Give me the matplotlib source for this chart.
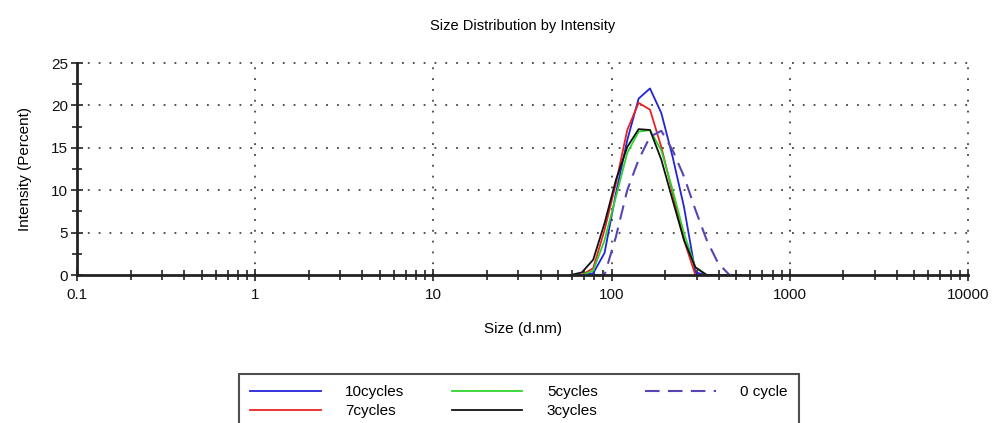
import numpy as np
import matplotlib.pyplot as plt
from matplotlib.ticker import FixedLocator, LogLocator, NullFormatter, MultipleLocator

plt.rcParams['font.family'] = ['Liberation Sans', 'DejaVu Sans']

# size bins (d.nm)
sizes = [58.77, 68.06, 78.82, 91.28, 105.7, 122.4, 141.8, 164.2, 190.1,
         220.2, 255.0, 295.3, 342.0, 396.1, 458.7, 531.2]

# intensity (%) per bin
cyc10 = [0.0, 0.0, 0.2, 2.6, 9.6, 15.9, 20.8, 22.0, 19.1, 13.9, 8.0, 0.3, 0.0, 0.0, 0.0, 0.0]
cyc7 = [0.0, 0.0, 0.8, 5.3, 10.8, 17.1, 20.3, 19.5, 15.1, 9.6, 4.1, 0.0, 0.0, 0.0, 0.0, 0.0]
cyc5 = [0.0, 0.0, 0.5, 4.1, 9.2, 14.4, 16.9, 17.1, 14.7, 10.0, 4.9, 0.9, 0.0, 0.0, 0.0, 0.0]
cyc3 = [0.0, 0.3, 1.8, 6.1, 11.2, 15.1, 17.2, 17.1, 13.6, 8.8, 4.1, 0.9, 0.0, 0.0, 0.0, 0.0]
cyc0 = [0.0, 0.0, 0.0, 0.0, 4.5, 10.0, 13.6, 16.3, 17.0, 14.7, 11.6, 7.7, 4.1, 1.4, 0.0, 0.0]

labels = ['10cycles', '7cycles', '5cycles', '3cycles', '0 cycle']
colors = ['#2323d8', '#e82222', '#2ed42e', '#111111', '#5545b5']

fig = plt.figure(figsize=(9.93, 4.23), dpi=100)
ax = fig.add_axes([77/993, 1 - 275/423, (968 - 77)/993, (275 - 63)/423])

series = [cyc10, cyc7, cyc5, cyc3, cyc0]
handles = []
for vals, lab, col in zip(series, labels, colors):
    if lab == '0 cycle':
        h, = ax.plot(sizes, vals, color=col, lw=1.5, dashes=(7, 4), label=lab)
    else:
        h, = ax.plot(sizes, vals, color=col, lw=1.3, label=lab)
    handles.append(h)

ax.set_xscale('log')
ax.set_xlim(0.1, 10000)
ax.set_ylim(0, 25)
ax.xaxis.set_major_locator(FixedLocator([0.1, 1, 10, 100, 1000, 10000]))
ax.set_xticklabels(['0.1', '1', '10', '100', '1000', '10000'])
ax.xaxis.set_minor_locator(LogLocator(base=10, subs=np.arange(2, 10), numticks=20))
ax.xaxis.set_minor_formatter(NullFormatter())
ax.yaxis.set_major_locator(MultipleLocator(5))
ax.yaxis.set_minor_locator(MultipleLocator(2.5))

ax.tick_params(which='both', direction='inout', width=1.2, color='#222222',
               labelsize=11, labelcolor='#111111')
ax.tick_params(which='major', length=9)
ax.tick_params(which='minor', length=7)
ax.tick_params(axis='x', pad=5)
ax.tick_params(axis='y', pad=2)

for s in ['top', 'right']:
    ax.spines[s].set_visible(False)
for s in ['left', 'bottom']:
    ax.spines[s].set_linewidth(2)
    ax.spines[s].set_color('#222222')

# dotted grid, including the frame at top/right
for yv in [5, 10, 15, 20, 25]:
    ax.axhline(yv, color='#444444', lw=1.3, dashes=(1, 5), zorder=0, clip_on=False)
for xv in [1, 10, 100, 1000, 10000]:
    ax.axvline(xv, color='#444444', lw=1.3, dashes=(1, 5), zorder=0, clip_on=False)

ax.set_title('Size Distribution by Intensity', fontsize=10.5, pad=24)
ax.set_xlabel('Size (d.nm)', fontsize=11, labelpad=14)
ax.set_ylabel('Intensity (Percent)', fontsize=11, labelpad=14)

leg = fig.legend(handles, labels,
                 loc='upper left', bbox_to_anchor=(239/993, 1 - 374/423, (799 - 239)/993, 0.0),
                 mode='expand', ncol=3, fontsize=11, handlelength=4.6, handletextpad=1.6,
                 borderaxespad=0, frameon=True, fancybox=False, edgecolor='#222222',
                 labelspacing=0.3, borderpad=0.75)
leg.get_frame().set_linewidth(1.5)

fig.savefig('out.png', dpi=100)
